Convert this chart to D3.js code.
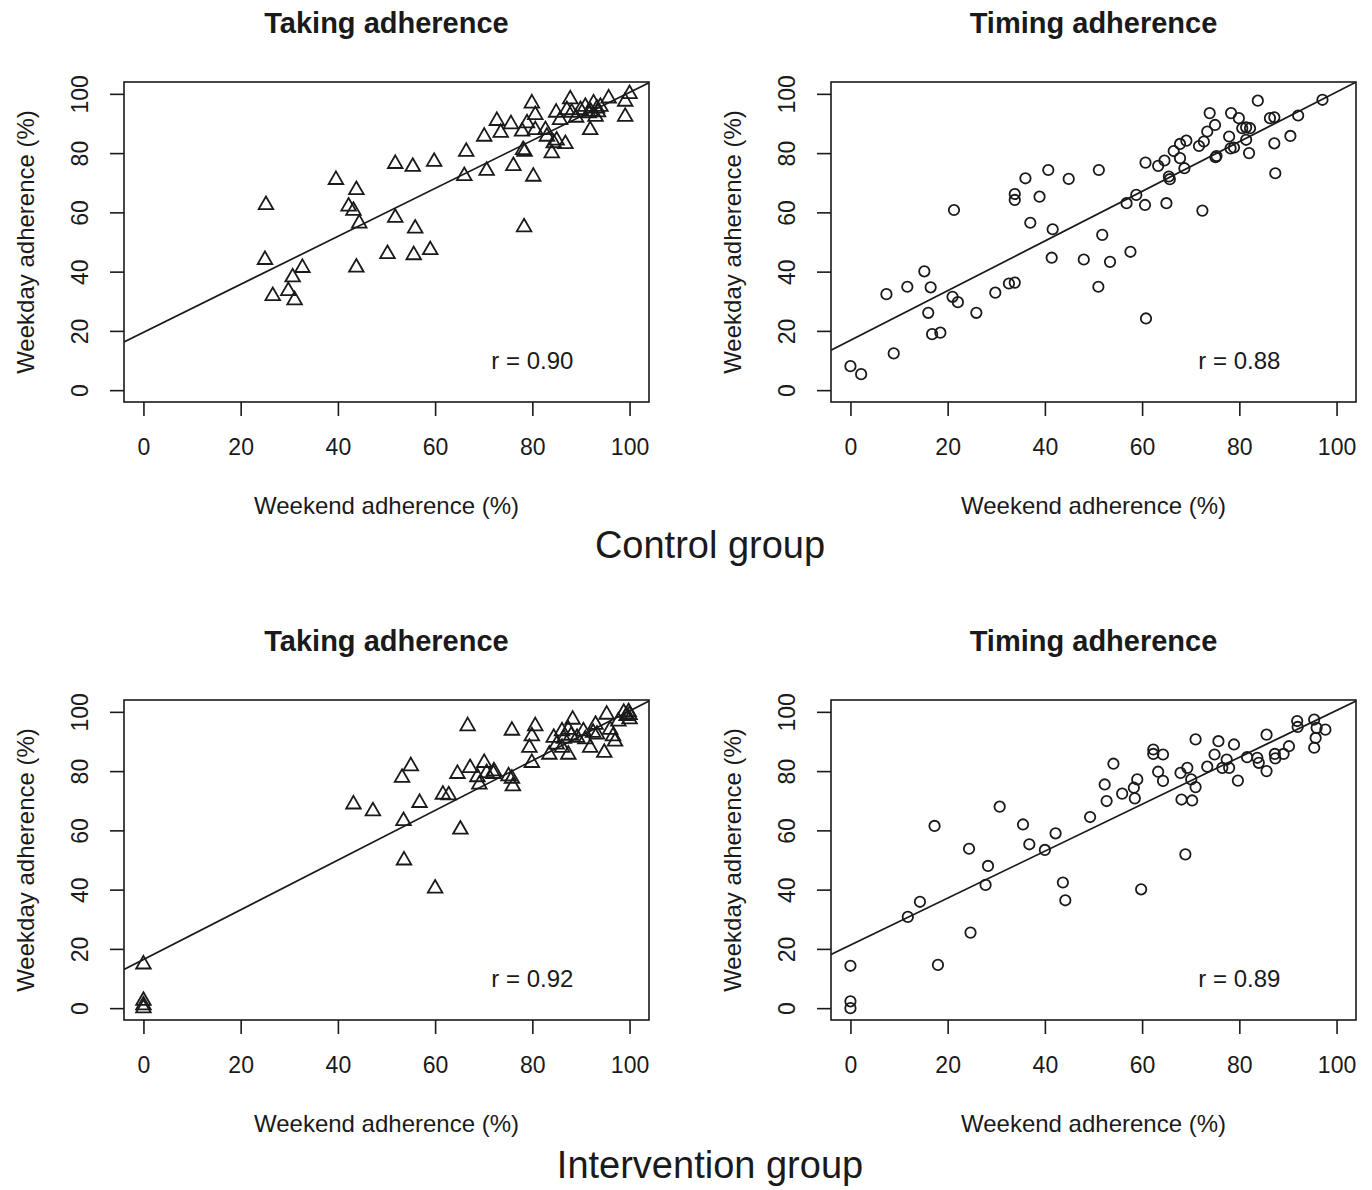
<!DOCTYPE html>
<html>
<head>
<meta charset="utf-8">
<script src="https://cdn.jsdelivr.net/npm/d3@7"></script>
<style>
body { margin: 0; background: #fff; }
svg { display: block; font-family: "Liberation Sans", Arial, sans-serif; }
</style>
</head>
<body>
<svg id="chart" width="1372" height="1190"></svg>
<script>
// weekend (x) vs weekday (y) adherence, %
const controlTaking = [
    [25.2, 62.5], [25, 44], [26.6, 31.8], [29.8, 33.5], [31.1, 30.4], [30.7, 38.1], [32.7, 41.3],
    [39.6, 71], [43.8, 67.6], [42.2, 62], [43.2, 60.6], [44.4, 56.3], [43.8, 41.4],
    [51.8, 76.4], [55.4, 75.4], [59.8, 77.1], [50.2, 46], [51.8, 58.2], [55.9, 54.6], [55.6, 45.6], [59, 47.3],
    [66.4, 80.5], [66, 72.3], [70.6, 74.1], [70.1, 85.6], [72.7, 90.9], [73.5, 86.9], [75.6, 89.8],
    [76.1, 75.7], [77.9, 87.3], [78.9, 90.1], [78.1, 81.1], [78.4, 80.5], [78.3, 55], [80.2, 72.1],
    [79.9, 96.8], [80.6, 92.9], [80.6, 87.8], [82.7, 87.8], [83, 85.6], [84, 80], [84.4, 83.4], [85, 84.3],
    [86.8, 83.1], [84.9, 93.7], [85.7, 91.2], [87.8, 98.2], [87.1, 94.6], [88.1, 93.7], [89.9, 94.6],
    [90.9, 95.7], [91.6, 93.5], [91.9, 87.8], [92.6, 96.8], [93, 92.3], [93.3, 95.1], [94, 95.7],
    [95.7, 98.5], [99.1, 92.3], [99.1, 97.4], [100, 100], [92, 94], [93.5, 93.8], [89, 92]
];

const controlTiming = [
    [0, 8.1], [2.2, 5.4], [8.9, 12.4], [7.4, 32.4], [11.7, 34.9], [15.2, 40.1], [16.5, 34.7], [16, 26.1],
    [16.8, 18.9], [18.5, 19.4], [21.3, 60.8], [21, 31.5], [22.1, 29.7], [25.9, 26.1], [29.8, 32.9],
    [32.6, 36], [33.8, 36.3], [33.8, 66.2], [33.8, 64.2], [36, 71.5], [38.9, 65.3], [37, 56.5],
    [40.7, 74.3], [41.6, 54.3], [41.4, 44.7], [44.9, 71.3], [48, 44.1],
    [51.1, 74.3], [51.8, 52.4], [53.4, 43.3], [51, 34.9], [57.6, 46.7], [56.8, 63.1], [58.8, 65.9],
    [60.6, 62.5], [60.8, 24.2], [60.7, 76.8], [65, 63.1], [63.3, 75.7], [64.6, 77.5], [65.5, 72.1],
    [65.7, 71.2], [66.5, 80.7], [67.8, 78.3], [67.8, 83.1], [69.1, 84.2], [68.7, 74.9], [71.7, 82.4],
    [72.7, 83.9], [73.4, 87.3], [73.9, 93.5], [75, 89.5], [75.1, 78.6], [75.3, 79], [72.4, 60.6],
    [77.9, 85.6], [78.2, 81.6], [78.9, 81.9], [78.3, 93.5], [79.9, 91.8], [80.6, 88.4], [81.4, 88.7],
    [82.2, 88.4], [81.4, 84.5], [82, 80], [83.8, 97.7], [86.3, 91.8], [87.2, 92.1], [87.2, 83.3],
    [87.4, 73.2], [90.5, 85.8], [92.1, 92.7], [97.1, 98]
];

const interventionTaking = [
    [0, 14.8], [0, 2.5], [0, 1], [0, 0], [43.2, 68.8], [47.2, 66.5],
    [53.2, 77.8], [55, 81.7], [56.8, 69.3], [53.5, 63.2], [53.6, 49.9], [60, 40.4], [65.2, 60.3],
    [66.7, 95.2], [61.6, 72.1], [62.8, 71.9], [64.6, 79.1], [67.2, 81.1], [68.7, 78], [69.1, 75.5],
    [70.1, 82.8], [70.6, 79.4], [72, 79.1], [72.1, 80], [75.1, 78.3], [75.8, 77.5], [76, 74.9],
    [75.8, 93.7], [79.4, 87.9], [79.9, 91.8], [80.6, 95.2], [79.9, 82.8], [83.5, 85.6], [84.4, 91.3],
    [85, 89], [86.1, 93.5], [86.1, 87.9], [87.4, 85.6], [87.4, 94], [88.3, 97.4], [89.2, 91.3],
    [90.5, 93.5], [90.9, 90.8], [91.9, 87.9], [93, 95.7], [93.3, 92.4], [94.8, 86.2], [95.3, 99.1],
    [96, 94], [96.6, 91.8], [97, 90], [97.7, 96.8], [98.8, 99.7], [99.4, 98.6], [99.8, 100],
    [100, 97.5], [100, 99], [92.5, 93], [88, 92], [86.5, 91]
];

const interventionTiming = [
    [0, 14.3], [0, 2.3], [0, 0], [11.8, 30.8], [14.3, 35.9], [17.3, 61.5], [18, 14.6], [24.4, 53.8],
    [24.7, 25.5], [28.3, 48], [27.8, 41.6], [30.7, 68], [35.5, 62], [36.8, 55.3], [40, 53.4],
    [42.2, 59], [43.7, 42.4], [44.2, 36.4], [49.3, 64.5],
    [54.1, 82.5], [52.3, 75.5], [52.7, 69.9], [55.9, 72.4], [58.3, 74.4], [59, 77.2], [58.5, 70.8],
    [59.8, 40.1], [62.3, 87.3], [62.3, 85.8], [64.3, 85.6], [63.3, 79.8], [64.3, 76.7], [67.9, 79.4],
    [68.1, 70.4], [68.9, 51.9], [69.3, 81.1], [70.1, 77.2], [70.3, 70.1], [71, 74.6], [71, 90.7],
    [73.4, 81.5], [74.9, 85.6], [75.7, 90.1], [76.5, 81.1], [77.4, 83.9], [77.9, 81.1], [78.9, 89],
    [79.7, 76.8], [81.6, 84.7], [83.7, 84.5], [84, 82.8], [85.6, 92.3], [85.6, 80], [87.3, 85.8],
    [87.4, 84.3], [89.1, 85.8], [90.2, 88.4], [91.9, 96.9], [92, 94.9], [95.4, 97.4], [95.9, 94.6],
    [97.7, 94], [95.7, 91.2], [95.4, 87.9]
];

// fitted lines [intercept, slope] and correlation labels
const fitLines = [[19.5, 0.81], [16.8, 0.838], [16.4, 0.839], [21.3, 0.792]];
const corrLabels = ['r = 0.90', 'r = 0.88', 'r = 0.92', 'r = 0.89'];
const panelTitles = ['Taking adherence', 'Timing adherence'];
const groupTitles = ['Control group', 'Intervention group'];
const tickValues = [0, 20, 40, 60, 80, 100];
const xLabel = 'Weekend adherence (%)',
    yLabel = 'Weekday adherence (%)';

const panels = [
    { data: controlTaking, row: 0, col: 0, marker: 'triangle' },
    { data: controlTiming, row: 0, col: 1, marker: 'circle' },
    { data: interventionTaking, row: 1, col: 0, marker: 'triangle' },
    { data: interventionTiming, row: 1, col: 1, marker: 'circle' }
];

const svg = d3.select('#chart'),
    ink = '#1a1a1a',
    box = { width: 525, height: 320 },
    lefts = [124, 831],
    tops = [82, 700];

svg.append('rect').attr('width', 1372).attr('height', 1190).attr('fill', 'white');

panels.forEach(function (p, i) {
    const g = svg.append('g')
        .attr('transform', 'translate(' + lefts[p.col] + ',' + tops[p.row] + ')');

    const x = d3.scaleLinear().domain([-4, 104]).range([0, box.width]),
        y = d3.scaleLinear().domain([-4, 104]).range([box.height, 0]);

    g.append('clipPath').attr('id', 'clip' + i)
        .append('rect').attr('width', box.width).attr('height', box.height);

    // axes
    const xAxis = g.append('g')
        .attr('transform', 'translate(0,' + box.height + ')')
        .call(d3.axisBottom(x).tickValues(tickValues).tickSize(14).tickFormat(d3.format('d')));

    const yAxis = g.append('g')
        .call(d3.axisLeft(y).tickValues(tickValues).tickSize(14).tickFormat(d3.format('d')));

    [xAxis, yAxis].forEach(function (a) {
        a.select('.domain').remove();
        a.selectAll('line').attr('stroke', ink).attr('stroke-width', 1.6);
        a.selectAll('text')
            .attr('fill', ink)
            .attr('font-size', 23)
            .attr('font-family', '"Liberation Sans", Arial, sans-serif');
    });

    xAxis.selectAll('text').attr('y', 53).attr('dy', 0);

    yAxis.selectAll('text')
        .attr('transform', 'rotate(-90)')
        .attr('x', 0)
        .attr('y', -36)
        .attr('dy', 0)
        .attr('text-anchor', 'middle');

    // box
    g.append('rect')
        .attr('width', box.width)
        .attr('height', box.height)
        .attr('fill', 'none')
        .attr('stroke', ink)
        .attr('stroke-width', 1.6);

    // fit line
    const fit = fitLines[i];
    g.append('line')
        .attr('clip-path', 'url(#clip' + i + ')')
        .attr('x1', x(-4))
        .attr('y1', y(fit[0] + fit[1] * -4))
        .attr('x2', x(104))
        .attr('y2', y(fit[0] + fit[1] * 104))
        .attr('stroke', ink)
        .attr('stroke-width', 1.7);

    // points
    const pts = g.append('g').attr('fill', 'none').attr('stroke', ink).attr('stroke-width', 1.8);
    if (p.marker === 'circle') {
        pts.selectAll('circle')
            .data(p.data)
            .enter()
            .append('circle')
            .attr('cx', d => x(d[0]))
            .attr('cy', d => y(d[1]))
            .attr('r', 5.2);
    } else {
        pts.selectAll('path')
            .data(p.data)
            .enter()
            .append('path')
            .attr('d', d3.symbol(d3.symbolTriangle, 92))
            .attr('transform', d => 'translate(' + x(d[0]) + ',' + y(d[1]) + ')');
    }

    g.append('text')
        .text(corrLabels[i])
        .attr('x', x(80))
        .attr('y', y(10))
        .attr('dy', '0.35em')
        .attr('text-anchor', 'middle')
        .attr('font-size', 24)
        .attr('fill', ink);

    // labels
    g.append('text')
        .text(panelTitles[p.col])
        .attr('x', box.width / 2)
        .attr('y', -49)
        .attr('text-anchor', 'middle')
        .attr('font-size', 29)
        .attr('font-weight', 'bold')
        .attr('fill', ink);

    g.append('text')
        .text(xLabel)
        .attr('x', box.width / 2)
        .attr('y', box.height + 112)
        .attr('text-anchor', 'middle')
        .attr('font-size', 24)
        .attr('fill', ink);

    g.append('text')
        .text(yLabel)
        .attr('transform', 'rotate(-90)')
        .attr('x', -box.height / 2)
        .attr('y', -90)
        .attr('text-anchor', 'middle')
        .attr('font-size', 24)
        .attr('fill', ink);
});

svg.selectAll('text.group')
    .data(groupTitles)
    .enter()
    .append('text')
    .classed('group', true)
    .text(d => d)
    .attr('x', 710)
    .attr('y', (d, i) => [558, 1178][i])
    .attr('text-anchor', 'middle')
    .attr('font-size', 38)
    .attr('fill', ink);
</script>
</body>
</html>
